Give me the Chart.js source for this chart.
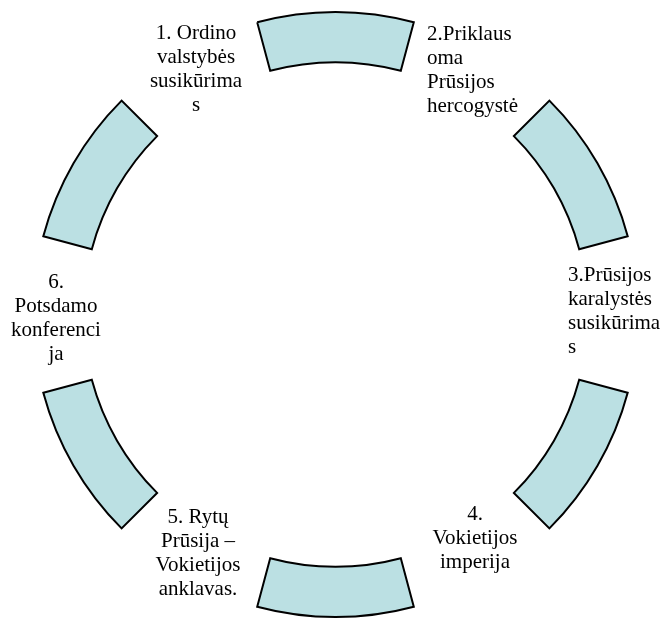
<!DOCTYPE html>
<html>
<head>
<meta charset="utf-8">
<script src="https://cdn.jsdelivr.net/npm/chart.js@4.4.0/dist/chart.umd.min.js"></script>
<style>
    html, body { margin: 0; padding: 0; background: #fff; }
    #wrap { width: 661px; height: 619px; position: relative; }
</style>
</head>
<body>
<div id="wrap"><canvas id="cycle" width="661" height="619"></canvas></div>
<script>
    "use strict";

    // six stages of the cycle, clockwise from the top
    var stages = ["1", "2", "3", "4", "5", "6"];
    var stageLines = [
        ["1. Ordino", "valstybės", "susikūrima", "s"],
        ["2.Priklaus", "oma", "Prūsijos", "hercogystė"],
        ["3.Prūsijos", "karalystės", "susikūrima", "s"],
        ["4.", "Vokietijos", "imperija"],
        ["5. Rytų", "Prūsija –", "Vokietijos", "anklavas."],
        ["6.", "Potsdamo", "konferenci", "ja"]
    ];
    var stageSize = [1, 1, 1, 1, 1, 1];
    var gapSize = [1, 1, 1, 1, 1, 1];

    // where each text block sits (first baseline) and how it is aligned
    var labelLayout = [
        { x: 196, y: 39, align: "center" },
        { x: 427, y: 40, align: "left" },
        { x: 568, y: 281, align: "left" },
        { x: 475, y: 520, align: "center" },
        { x: 198, y: 523, align: "center" },
        { x: 56, y: 288, align: "center" }
    ];
    var lineHeight = 24;
    var fill = "#BBE0E3";

    var data = [], colors = [], borders = [], widths = [], names = [];
    stages.forEach(function (s, i) {
        data.push(stageSize[i], gapSize[i]);
        colors.push(fill, "rgba(0,0,0,0)");
        borders.push("#000", "rgba(0,0,0,0)");
        widths.push(2, 0);
        names.push(s, "");
    });

    var stageText = {
        id: "stageText",
        afterDraw: function (chart) {
            var ctx = chart.ctx;
            ctx.save();
            ctx.fillStyle = "#000";
            ctx.font = "21px 'Liberation Serif', 'Times New Roman', serif";
            ctx.textBaseline = "alphabetic";
            stageLines.forEach(function (lines, i) {
                var pos = labelLayout[i];
                ctx.textAlign = pos.align;
                lines.forEach(function (line, j) {
                    ctx.fillText(line, pos.x, pos.y + j * lineHeight);
                });
            });
            ctx.restore();
        }
    };

    new Chart(document.getElementById("cycle").getContext("2d"), {
        type: "doughnut",
        data: {
            labels: names,
            datasets: [{
                data: data,
                backgroundColor: colors,
                borderColor: borders,
                borderWidth: widths,
                borderJoinStyle: "miter",
                hoverOffset: 0
            }]
        },
        options: {
            responsive: false,
            animation: false,
            events: [],
            rotation: -15,
            cutout: "83.4%",
            layout: { padding: { left: 32, right: 22, top: 11, bottom: 1 } },
            plugins: {
                legend: { display: false },
                tooltip: { enabled: false }
            }
        },
        plugins: [stageText]
    });
</script>
</body>
</html>
